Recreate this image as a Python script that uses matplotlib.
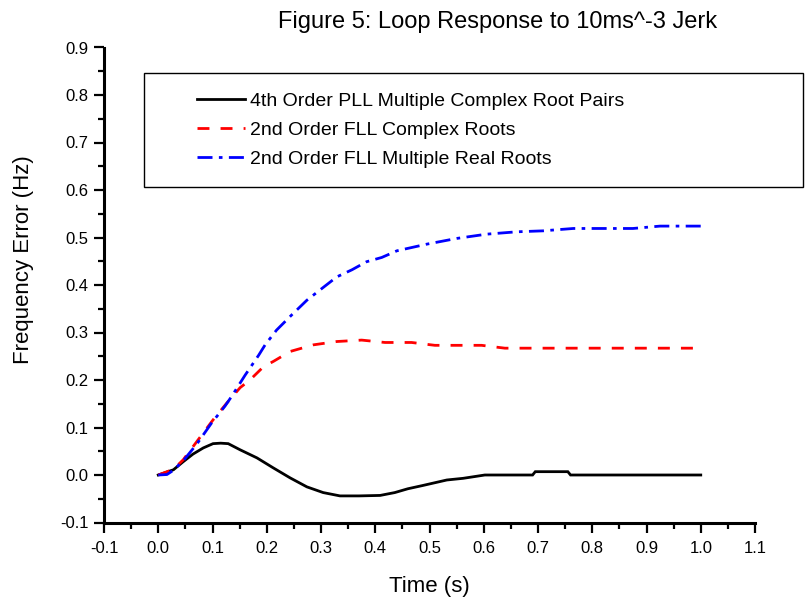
import matplotlib
matplotlib.use("Agg")
import matplotlib.pyplot as plt
from matplotlib.patches import Rectangle
from matplotlib.ticker import MultipleLocator, FormatStrFormatter

plt.rcParams['font.family'] = ['Liberation Sans', 'DejaVu Sans']

title = "Figure 5: Loop Response to 10ms^-3 Jerk"
xlabel = "Time (s)"
ylabel = "Frequency Error (Hz)"
labels = ["4th Order PLL Multiple Complex Root Pairs",
          "2nd Order FLL Complex Roots",
          "2nd Order FLL Multiple Real Roots"]

t_pll = [0, 0.028, 0.046, 0.064, 0.083, 0.101, 0.115, 0.129, 0.151, 0.182, 0.212,
         0.243, 0.274, 0.304, 0.335, 0.37, 0.409, 0.436, 0.46, 0.486, 0.532, 0.562,
         0.602, 0.69, 0.695, 0.755, 0.76, 1.0]
v_pll = [0, 0.011, 0.028, 0.044, 0.057, 0.066, 0.067, 0.066, 0.053, 0.036, 0.015,
         -0.006, -0.025, -0.037, -0.044, -0.044, -0.043, -0.037, -0.029, -0.0225,
         -0.0105, -0.007, 0.0, 0.0, 0.007, 0.007, 0.0, 0.0]

t_fllc = [0, 0.028, 0.046, 0.08, 0.101, 0.126, 0.151, 0.169, 0.194, 0.212, 0.243,
          0.286, 0.329, 0.375, 0.418, 0.467, 0.51, 0.596, 0.639, 1.0]
v_fllc = [0, 0.012, 0.032, 0.084, 0.116, 0.151, 0.184, 0.2, 0.228, 0.239, 0.26,
          0.274, 0.281, 0.284, 0.279, 0.279, 0.273, 0.273, 0.267, 0.267]

t_fllr = [0, 0.016, 0.028, 0.046, 0.071, 0.098, 0.123, 0.135, 0.16, 0.185, 0.197,
          0.218, 0.246, 0.274, 0.302, 0.329, 0.357, 0.384, 0.412, 0.44, 0.495, 0.55,
          0.605, 0.661, 0.709, 0.765, 0.875, 0.925, 1.0]
v_fllr = [0, 0.001, 0.01, 0.03, 0.065, 0.109, 0.145, 0.165, 0.21, 0.252, 0.274,
          0.305, 0.337, 0.368, 0.393, 0.417, 0.432, 0.449, 0.458, 0.472, 0.486, 0.498,
          0.507, 0.512, 0.514, 0.519, 0.519, 0.524, 0.524]

W, H = 805, 601
fig = plt.figure(figsize=(W/100, H/100), dpi=100)
ax = fig.add_axes([104/W, 1-522.5/H, (755-104)/W, (522.5-47.5)/H])

l1, = ax.plot(t_pll, v_pll, color='black', lw=2, solid_joinstyle='miter')
l2, = ax.plot(t_fllc, v_fllc, color='#ff0000', lw=2, dashes=(4.3, 4.0))
l3, = ax.plot(t_fllr, v_fllr, color='#0000ff', lw=2, dashes=(5.4, 2.3, 1.3, 2.3))

ax.set_xlim(-0.1, 1.1)
ax.set_ylim(-0.1, 0.9)
ax.xaxis.set_major_locator(MultipleLocator(0.1))
ax.xaxis.set_minor_locator(MultipleLocator(0.05))
ax.yaxis.set_major_locator(MultipleLocator(0.1))
ax.yaxis.set_minor_locator(MultipleLocator(0.05))
ax.xaxis.set_major_formatter(FormatStrFormatter('%.1f'))
ax.yaxis.set_major_formatter(FormatStrFormatter('%.1f'))
for s in ['top', 'right']:
    ax.spines[s].set_visible(False)
for s in ['left', 'bottom']:
    ax.spines[s].set_linewidth(2.2)
ax.tick_params(which='major', direction='out', length=7, width=1.6, labelsize=12, pad=4)
ax.tick_params(axis='x', which='major', pad=6)
ax.tick_params(which='minor', direction='out', length=4.5, width=1.6)

fig.text(429.3/W, 1-591.7/H, xlabel, fontsize=16, ha='center', va='baseline')
fig.text(34/W, 1-260/H, ylabel, fontsize=16, rotation=90, ha='right', va='center')
fig.text(498/W, 1-28.3/H, title, fontsize=17, ha='center', va='baseline')

rect = Rectangle((144/W, 1-187/H), (803-144)/W, (187-72.7)/H,
                 transform=fig.transFigure, fill=False, edgecolor='black', lw=1.0,
                 clip_on=False)
fig.add_artist(rect)

fs = 14
fig.legend([l1, l2, l3], labels, loc='upper left',
           bbox_to_anchor=(197/W, 1-92.5/H), bbox_transform=fig.transFigure,
           frameon=False, fontsize=fs, borderpad=0, borderaxespad=0,
           handlelength=2.47, handletextpad=0.26, labelspacing=0.58)

fig.savefig("out.png", dpi=100)
